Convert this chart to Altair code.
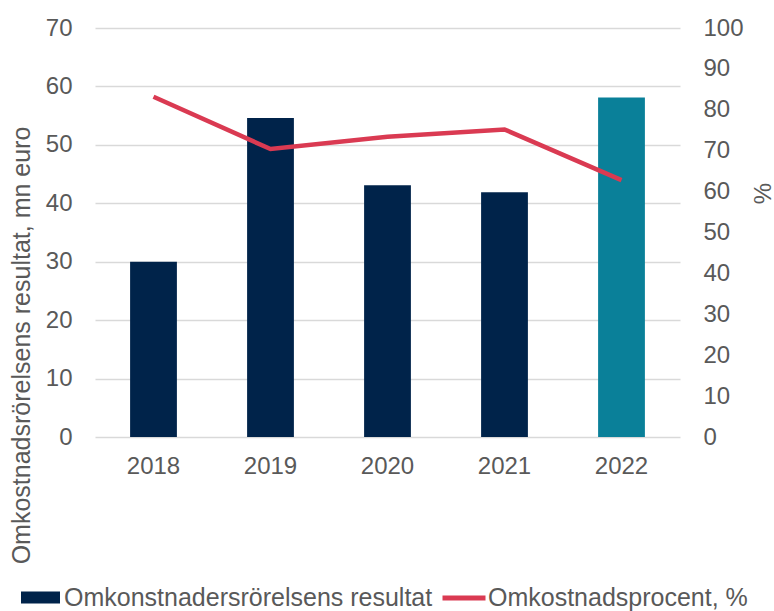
import altair as alt
import pandas as pd

years = ["2018", "2019", "2020", "2021", "2022"]
result_mn_eur = [30.0, 54.6, 43.1, 41.9, 58.1]
cost_pct = [83.2, 70.4, 73.4, 75.2, 62.8]
bar_name = "Omkonstnadersrörelsens resultat"
line_name = "Omkostnadsprocent, %"
left_ticks = [0, 10, 20, 30, 40, 50, 60, 70]
right_ticks = [0, 10, 20, 30, 40, 50, 60, 70, 80, 90, 100]

df = pd.DataFrame({
    "year": years,
    "result": result_mn_eur,
    "pct": cost_pct,
    "bar_series": [bar_name] * len(years),
    "line_series": [line_name] * len(years),
})

FONT = "Liberation Sans"
GREY = "#595959"
NAVY = "#00234A"
TEAL = "#0A8099"
RED = "#DA3A52"

x_enc = alt.X(
    "year:N",
    title=None,
    sort=years,
    scale=alt.Scale(paddingInner=0.6, paddingOuter=0.3),
    axis=alt.Axis(labelAngle=0, labelFontSize=24, labelColor=GREY, labelFont=FONT,
                  labelPadding=17, ticks=False, domain=False),
)

bars = alt.Chart(df).mark_bar().encode(
    x=x_enc,
    y=alt.Y(
        "result:Q",
        title="Omkostnadsrörelsens resultat, mn euro",
        scale=alt.Scale(domain=[0, 70], nice=False),
        axis=alt.Axis(values=left_ticks, grid=True, gridColor="#D9D9D9", gridWidth=1.3,
                      domain=False, ticks=False, labelFontSize=24, labelColor=GREY,
                      labelFont=FONT, labelPadding=23, titleFontSize=25, titleColor=GREY,
                      titleFont=FONT, titleFontWeight="normal", titleAngle=-90,
                      titleX=-74, titleY=317, titleAlign="center", titleBaseline="middle"),
    ),
    fill=alt.condition(
        "datum.year == '2022'",
        alt.value(TEAL),
        alt.Fill("bar_series:N",
                 scale=alt.Scale(domain=[bar_name], range=[NAVY]),
                 legend=alt.Legend(title=None, orient="none", legendX=-74, legendY=550,
                                   symbolType="M-1,-0.31H1V0.31H-1Z", symbolSize=1521,
                                   symbolStrokeWidth=0, labelFontSize=25, labelColor=GREY,
                                   labelFont=FONT, labelOffset=4, labelLimit=600)),
    ),
)

line = alt.Chart(df).mark_line(strokeWidth=4.5).encode(
    x=x_enc,
    y=alt.Y(
        "pct:Q",
        title="%",
        scale=alt.Scale(domain=[0, 100], nice=False),
        axis=alt.Axis(orient="right", values=right_ticks, grid=False, domain=False,
                      ticks=False, labelFontSize=24, labelColor=GREY, labelFont=FONT,
                      labelPadding=23, titleFontSize=24, titleColor=GREY, titleFont=FONT,
                      titleFontWeight="normal", titleAngle=-90, titleX=83, titleY=165,
                      titleAlign="center", titleBaseline="middle"),
    ),
    stroke=alt.Stroke("line_series:N",
                      scale=alt.Scale(domain=[line_name], range=[RED]),
                      legend=alt.Legend(title=None, orient="none", legendX=345, legendY=546,
                                        symbolType="stroke", symbolSize=1849,
                                        symbolStrokeWidth=5, labelFontSize=25,
                                        labelColor=GREY, labelFont=FONT, labelOffset=0,
                                        labelLimit=600)),
)

chart = alt.layer(bars, line).resolve_scale(y="independent").properties(
    width=585,
    height=409,
    autosize=alt.AutoSizeParams(type="none"),
    padding={"left": 95, "top": 28, "right": 94, "bottom": 174},
).configure(font=FONT).configure_view(strokeWidth=0)

chart.save("out.html", embed_options={"renderer": "svg", "actions": False})
